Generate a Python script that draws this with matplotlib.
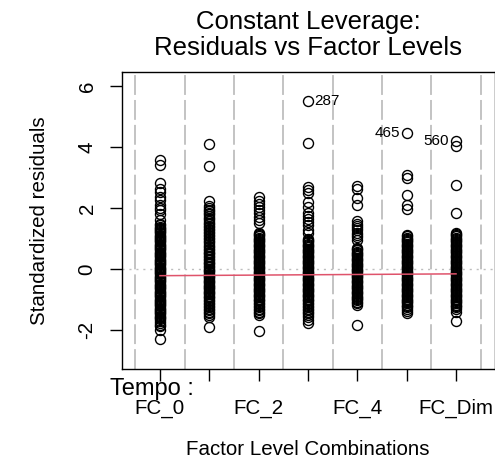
import matplotlib
matplotlib.use("Agg")
import matplotlib.pyplot as plt

plt.rcParams["font.family"] = ["Liberation Sans", "DejaVu Sans"]

# factor levels of Tempo (only every other one gets a label, like R drops overlaps)
levels = ["FC_0", "FC_1", "FC_2", "FC_3", "FC_4", "FC_5", "FC_Dim"]
shown = ["FC_0", "", "FC_2", "", "FC_4", "", "FC_Dim"]

# standardized residuals per level
res_fc0 = [3.58, 3.42, 2.82, 2.64, 2.52, 2.36, 2.28, 2.1, 2.02, 1.94, 1.8, 1.62,
           1.48, 1.44, 1.4, 1.37, 1.33, 1.29, 1.25, 1.22, 1.18, 1.14, 1.1, 1.07,
           1.03, 0.99, 0.95, 0.92, 0.88, 0.84, 0.8, 0.77, 0.73, 0.69, 0.65, 0.62,
           0.58, 0.54, 0.5, 0.47, 0.43, 0.39, 0.35, 0.32, 0.28, 0.24, 0.2, 0.17,
           0.13, 0.09, 0.05, 0.02, -0.02, -0.06, -0.1, -0.13, -0.17, -0.21, -0.25,
           -0.28, -0.32, -0.36, -0.4, -0.43, -0.47, -0.51, -0.55, -0.58, -0.62,
           -0.66, -0.7, -0.73, -0.77, -0.81, -0.85, -0.88, -0.92, -0.96, -1.0,
           -1.03, -1.07, -1.11, -1.15, -1.18, -1.22, -1.26, -1.3, -1.33, -1.37,
           -1.41, -1.45, -1.48, -1.52, -1.56, -1.6, -1.64, -1.7, -1.76, -1.82,
           -1.86, -1.99, -2.27]
res_fc1 = [4.12, 3.4, 2.25, 2.08, 2.02, 1.96, 1.9, 1.85, 1.8, 1.74, 1.69, 1.64,
           1.58, 1.53, 1.48, 1.43, 1.38, 1.33, 1.28, 1.23, 1.18, 1.13, 1.08, 1.03,
           0.98, 0.93, 0.88, 0.83, 0.78, 0.73, 0.68, 0.63, 0.58, 0.53, 0.49, 0.44,
           0.39, 0.34, 0.3, 0.25, 0.2, 0.16, 0.11, 0.07, 0.02, -0.02, -0.06, -0.1,
           -0.14, -0.18, -0.22, -0.26, -0.3, -0.34, -0.38, -0.42, -0.46, -0.5,
           -0.54, -0.58, -0.62, -0.66, -0.7, -0.74, -0.78, -0.82, -0.86, -0.9,
           -0.95, -1.0, -1.05, -1.1, -1.15, -1.2, -1.25, -1.3, -1.35, -1.4, -1.45,
           -1.5, -1.55, -1.88]
res_fc2 = [2.36, 2.25, 2.15, 2.03, 1.95, 1.84, 1.73, 1.62, 1.51, 1.2, 1.16,
           1.12, 1.08, 1.04, 1.0, 0.96, 0.92, 0.88, 0.84, 0.8, 0.76, 0.72, 0.68,
           0.64, 0.6, 0.56, 0.52, 0.48, 0.44, 0.4, 0.36, 0.32, 0.28, 0.24, 0.2,
           0.16, 0.12, 0.08, 0.04, 0.0, -0.04, -0.08, -0.12, -0.16, -0.2, -0.24,
           -0.28, -0.32, -0.36, -0.4, -0.44, -0.48, -0.52, -0.56, -0.6, -0.64,
           -0.68, -0.72, -0.76, -0.8, -0.84, -0.88, -0.92, -0.96, -1.0, -1.05,
           -1.1, -1.15, -1.2, -1.25, -1.3, -1.35, -1.4, -1.45, -1.5, -2.02]
res_fc3 = [5.51, 4.13, 2.71, 2.6, 2.51, 2.2, 2.05, 1.85, 1.75, 1.65, 1.55,
           1.45, 1.3, 1.18, 1.0, 0.96, 0.92, 0.88, 0.84, 0.8, 0.76, 0.72, 0.68,
           0.64, 0.6, 0.56, 0.52, 0.48, 0.44, 0.4, 0.36, 0.32, 0.28, 0.24, 0.2,
           0.16, 0.12, 0.08, 0.04, 0.0, -0.04, -0.08, -0.12, -0.16, -0.2, -0.24,
           -0.28, -0.32, -0.36, -0.4, -0.44, -0.48, -0.52, -0.56, -0.6, -0.64,
           -0.68, -0.72, -0.76, -0.8, -0.84, -0.88, -0.92, -0.96, -1.0, -1.05,
           -1.1, -1.15, -1.2, -1.25, -1.3, -1.35, -1.4, -1.45, -1.5, -1.55, -1.65,
           -1.77]
res_fc4 = [2.73, 2.62, 2.35, 2.12, 1.58, 1.5, 1.42, 1.35, 1.28, 1.2, 1.12,
           1.05, 0.97, 0.7, 0.66, 0.62, 0.58, 0.54, 0.5, 0.46, 0.42, 0.38, 0.34,
           0.3, 0.26, 0.22, 0.18, 0.14, 0.1, 0.06, 0.02, -0.02, -0.06, -0.1,
           -0.14, -0.18, -0.22, -0.26, -0.3, -0.34, -0.38, -0.42, -0.46, -0.5,
           -0.54, -0.58, -0.62, -0.66, -0.7, -0.74, -0.78, -0.82, -0.86, -0.9,
           -0.94, -0.98, -1.02, -1.06, -1.12, -1.18, -1.82]
res_fc5 = [4.46, 3.09, 2.98, 2.44, 2.11, 1.97, 1.12, 1.08, 1.04, 1.0, 0.96,
           0.92, 0.88, 0.84, 0.8, 0.76, 0.72, 0.68, 0.64, 0.6, 0.56, 0.52, 0.48,
           0.44, 0.4, 0.36, 0.32, 0.28, 0.24, 0.2, 0.16, 0.12, 0.08, 0.04, 0.0,
           -0.04, -0.08, -0.12, -0.16, -0.2, -0.24, -0.28, -0.32, -0.36, -0.4,
           -0.44, -0.48, -0.52, -0.56, -0.6, -0.64, -0.68, -0.72, -0.76, -0.8,
           -0.84, -0.88, -0.92, -0.96, -1.0, -1.04, -1.08, -1.12, -1.16, -1.2,
           -1.25, -1.3, -1.38, -1.45]
res_fcdim = [4.22, 4.03, 2.76, 1.83, 1.18, 1.15, 1.12, 1.08, 1.04, 1.0, 0.96,
             0.92, 0.88, 0.84, 0.8, 0.76, 0.72, 0.68, 0.64, 0.6, 0.56, 0.52,
             0.48, 0.44, 0.4, 0.36, 0.32, 0.28, 0.24, 0.2, 0.16, 0.12, 0.08,
             0.04, 0.0, -0.04, -0.08, -0.12, -0.16, -0.2, -0.24, -0.28, -0.32,
             -0.36, -0.4, -0.44, -0.48, -0.52, -0.56, -0.6, -0.64, -0.68, -0.72,
             -0.76, -0.8, -0.84, -0.88, -0.92, -0.96, -1.0, -1.04, -1.08, -1.12,
             -1.16, -1.2, -1.25, -1.3, -1.4, -1.7]
residuals = [res_fc0, res_fc1, res_fc2, res_fc3, res_fc4, res_fc5, res_fcdim]

# red smoother at each level
smooth_y = [-0.21, -0.2, -0.19, -0.18, -0.17, -0.16, -0.15]

# labelled points: (level index, residual, id, side)
id_points = [(3, 5.51, "287", "right"), (5, 4.46, "465", "left"), (6, 4.22, "560", "left")]

W, H = 495, 465
fig = plt.figure(figsize=(W / 100, H / 100), dpi=100)
left, right, top, bottom = 121.5, 494.5, 71.7, 369.3
ax = fig.add_axes([left / W, 1 - bottom / H, (right - left) / W, (bottom - top) / H])

for i in range(len(levels) + 1):
    ax.axvline(i - 0.5, color="#BEBEBE", lw=1.3, dashes=(11, 2.8), zorder=0)
ax.axhline(0, color="#BEBEBE", lw=1.0, dashes=(1.5, 3.5), zorder=0)

for i, vals in enumerate(residuals):
    ax.plot([i] * len(vals), vals, "o", mfc="none", mec="black", ms=7.2, mew=1.0, zorder=2)

ax.plot(range(len(levels)), smooth_y, color="#DF536B", lw=1.1, zorder=3)

for i, v, lab, side in id_points:
    if side == "right":
        ax.annotate(lab, (i, v), xytext=(4.5, 0), textcoords="offset points",
                    ha="left", va="center", fontsize=11)
    else:
        ax.annotate(lab, (i, v), xytext=(-5, 0), textcoords="offset points",
                    ha="right", va="center", fontsize=11)

ax.set_xlim(-0.78, 6.78)
ax.set_ylim(-3.28, 6.48)
ax.set_xticks(range(len(levels)))
ax.set_xticklabels(shown, fontsize=14.8)
ax.set_yticks([-2, 0, 2, 4, 6])
ax.set_yticklabels(["-2", "0", "2", "4", "6"], fontsize=14.8, rotation=90, va="center")
ax.tick_params(axis="x", length=8.6, width=1.0, pad=12.5)
ax.tick_params(axis="y", length=8.6, width=1.0, pad=9.4)
for s in ax.spines.values():
    s.set_linewidth(1.0)

fig.text(308 / W, 1 - 29 / H, "Constant Leverage:", ha="center", va="baseline", fontsize=18.5)
fig.text(308 / W, 1 - 55 / H, "Residuals vs Factor Levels", ha="center", va="baseline", fontsize=18.5)
fig.text(308 / W, 1 - 455 / H, "Factor Level Combinations", ha="center", va="baseline", fontsize=14.8)
fig.text(40 / W, 1 - 220.5 / H, "Standardized residuals", ha="center", va="center",
         rotation=90, fontsize=14.8)
fig.text(110 / W, 1 - 395 / H, "Tempo :", ha="left", va="baseline", fontsize=17)

fig.savefig("out.png", dpi=100)
